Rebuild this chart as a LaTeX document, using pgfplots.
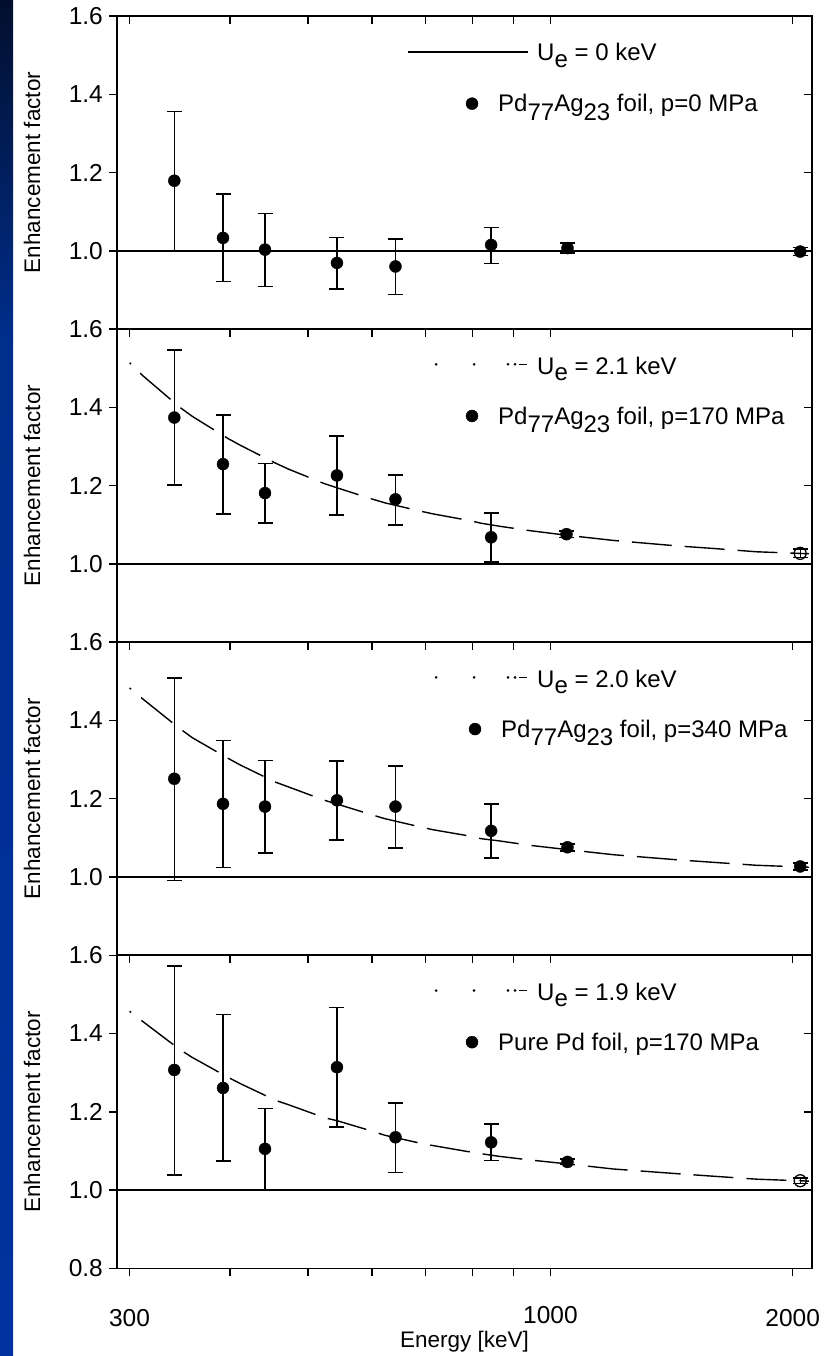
\documentclass[border=0pt]{standalone}
\usepackage{pgfplots}
\pgfplotsset{compat=1.18}
\usepackage{fontspec}
\setmainfont{Liberation Sans}
\newcommand\legfont{\fontsize{24}{28}\selectfont}
\newcommand\axfont{\fontsize{22.5}{27}\selectfont}
\newcommand\tkfont{\fontsize{24.5}{28}\selectfont}
\pgfplotstableread{
x y ep em
341 1.179 0.177 0.179
392 1.033 0.112 0.111
442 1.003 0.092 0.094
543 0.969 0.065 0.067
642 0.960 0.070 0.072
844 1.015 0.045 0.047
1050 1.007 0.013 0.013
2043 0.998 0.010 0.010
}\dataA
\pgfplotstableread{
x y ep em
341 1.374 0.172 0.173
392 1.255 0.126 0.127
442 1.181 0.075 0.076
543 1.226 0.101 0.101
642 1.165 0.062 0.066
844 1.068 0.062 0.063
1047 1.076 0.008 0.008
}\dataB
\pgfplotstableread{
x y ep em
2043 1.027 0.011 0.011
}\dataBopen
\pgfplotstableread{
x y ep em
341 1.251 0.258 0.260
392 1.187 0.162 0.163
442 1.180 0.118 0.119
543 1.196 0.100 0.102
642 1.180 0.104 0.106
844 1.118 0.069 0.070
1050 1.076 0.009 0.009
2043 1.027 0.009 0.009
}\dataC
\pgfplotstableread{
x y ep em
341 1.307 0.266 0.268
392 1.261 0.188 0.187
442 1.1055 0.1035 0.1055
543 1.314 0.153 0.153
642 1.135 0.087 0.090
844 1.122 0.047 0.0465
1050 1.072 0.007 0.007
}\dataD
\pgfplotstableread{
x y ep em
2043 1.024 0.007 0.007
}\dataDopen
\begin{document}
\begin{tikzpicture}
\useasboundingbox (0pt,0pt) rectangle (825pt,1356pt);
\fill[white] (0pt,0pt) rectangle (825pt,1356pt);
\shade[top color={rgb,255:red,2;green,15;blue,46}, bottom color={rgb,255:red,0;green,46;blue,140}] (0pt,1016pt) rectangle (13pt,1356pt);
\shade[top color={rgb,255:red,0;green,46;blue,140}, bottom color={rgb,255:red,0;green,51;blue,160}] (0pt,0pt) rectangle (13pt,1016.5pt);

% ---------------- Panel 1 ----------------
\begin{axis}[at={(117pt,1026.9pt)}, anchor=south west, scale only axis, width=695pt, height=313.1pt,
  xmode=log, xmin=289.46, xmax=2113.4, ymin=0.8, ymax=1.6,
  axis line style={line width=1.6pt}, major tick length=8pt, minor tick length=0pt,
  tick style={line width=1.4pt, black}, tick align=inside, xtick pos=right, ytick pos=right,
  xtick={300,400,500,600,700,800,900,1000,2000}, ytick={1.0,1.2,1.4,1.6},
  xticklabels={}, yticklabels={}]
\addplot[line width=1.7pt, black] coordinates {(289.46,1) (2113.4,1)};
\addplot[only marks, mark=*, mark size=6pt, black,
  error bars/y dir=both, error bars/y explicit,
  error bars/error bar style={line width=1.5pt},
  error bars/error mark options={rotate=90, line width=1.5pt, mark size=7.5pt}]
  table[x=x, y=y, y error plus=ep, y error minus=em] {\dataA};
\addplot[line width=1.4pt, black] coordinates {(665.4,1.508) (937.9,1.508)};
\addplot[only marks, mark=*, mark size=6pt, black] coordinates {(799.2,1.376)};
\node[anchor=base west, inner sep=0pt, font=\legfont] at (axis cs:962.4,1.485) {U\raisebox{-0.26em}{e} = 0 keV};
\node[anchor=base west, inner sep=0pt, font=\legfont] at (axis cs:860.8,1.355) {Pd\raisebox{-0.36em}{77}Ag\raisebox{-0.36em}{23} foil, p=0 MPa};
\end{axis}
\begin{axis}[at={(117pt,1026.9pt)}, anchor=south west, scale only axis, width=695pt, height=313.1pt,
  xmode=log, xmin=289.46, xmax=2113.4, ymin=0.8, ymax=1.6,
  axis line style={line width=1.6pt}, major tick length=8pt, minor tick length=0pt,
  tick style={line width=1.4pt, black}, tick align=outside, xtick pos=left, ytick pos=left,
  xtick=\empty, ytick={1.0,1.2,1.4,1.6}, yticklabels={1.0,1.2,1.4,1.6},
  yticklabel style={anchor=east, inner sep=0pt, xshift=-6pt, font=\tkfont},
  ylabel={Enhancement factor},
  ylabel style={at={(axis description cs:-0.1223,0.5)}, anchor=center, font=\axfont}]
\end{axis}

% ---------------- Panel 2 ----------------
\begin{axis}[at={(117pt,713.8pt)}, anchor=south west, scale only axis, width=695pt, height=313.1pt,
  xmode=log, xmin=289.46, xmax=2113.4, ymin=0.8, ymax=1.6,
  axis line style={line width=1.6pt}, major tick length=8pt, minor tick length=0pt,
  tick style={line width=1.4pt, black}, tick align=inside, xtick pos=right, ytick pos=right,
  xtick={300,400,500,600,700,800,900,1000,2000}, ytick={1.0,1.2,1.4,1.6},
  xticklabels={}, yticklabels={}]
\addplot[line width=1.7pt, black] coordinates {(289.46,1) (2113.4,1)};
\addplot[line width=1.4pt, black, dash pattern=on 40pt off 13pt, dash phase=38pt] coordinates {
 (300,1.514) (312,1.480) (346,1.401) (359,1.377) (398,1.320) (412,1.303)
 (456,1.257) (473,1.242) (524,1.205) (544,1.194) (602,1.165) (623,1.156)
 (689,1.135) (714,1.128) (792,1.111) (820,1.104) (866,1.096) (943,1.085)
 (1050,1.073) (1197,1.060) (1437,1.046) (1581,1.040) (1803,1.031) (2094,1.026)
};
\addplot[only marks, mark=*, mark size=6pt, black,
  error bars/y dir=both, error bars/y explicit,
  error bars/error bar style={line width=1.5pt},
  error bars/error mark options={rotate=90, line width=1.5pt, mark size=7.5pt}]
  table[x=x, y=y, y error plus=ep, y error minus=em] {\dataB};
\addplot[only marks, mark=o, mark size=6pt, black, mark options={line width=1.3pt},
  error bars/y dir=both, error bars/y explicit,
  error bars/error bar style={line width=1.3pt},
  error bars/error mark options={rotate=90, line width=1.3pt, mark size=7.5pt}]
  table[x=x, y=y, y error plus=ep, y error minus=em] {\dataBopen};
\addplot[only marks, mark=*, mark size=1.1pt, black] coordinates {(721.1,1.510) (803.8,1.510) (885.8,1.510) (903.7,1.510)};
\addplot[line width=1.3pt, black] coordinates {(914.1,1.510) (935.3,1.510)};
\addplot[only marks, mark=*, mark size=6pt, black] coordinates {(799.2,1.378)};
\node[anchor=base west, inner sep=0pt, font=\legfont] at (axis cs:962.4,1.485) {U\raisebox{-0.26em}{e} = 2.1 keV};
\node[anchor=base west, inner sep=0pt, font=\legfont] at (axis cs:860.8,1.357) {Pd\raisebox{-0.36em}{77}Ag\raisebox{-0.36em}{23} foil, p=170 MPa};
\end{axis}
\begin{axis}[at={(117pt,713.8pt)}, anchor=south west, scale only axis, width=695pt, height=313.1pt,
  xmode=log, xmin=289.46, xmax=2113.4, ymin=0.8, ymax=1.6,
  axis line style={line width=1.6pt}, major tick length=8pt, minor tick length=0pt,
  tick style={line width=1.4pt, black}, tick align=outside, xtick pos=left, ytick pos=left,
  xtick=\empty, ytick={1.0,1.2,1.4,1.6}, yticklabels={1.0,1.2,1.4,1.6},
  yticklabel style={anchor=east, inner sep=0pt, xshift=-6pt, font=\tkfont},
  ylabel={Enhancement factor},
  ylabel style={at={(axis description cs:-0.1223,0.5)}, anchor=center, font=\axfont}]
\end{axis}

% ---------------- Panel 3 ----------------
\begin{axis}[at={(117pt,400.7pt)}, anchor=south west, scale only axis, width=695pt, height=313.1pt,
  xmode=log, xmin=289.46, xmax=2113.4, ymin=0.8, ymax=1.6,
  axis line style={line width=1.6pt}, major tick length=8pt, minor tick length=0pt,
  tick style={line width=1.4pt, black}, tick align=inside, xtick pos=right, ytick pos=right,
  xtick={300,400,500,600,700,800,900,1000,2000}, ytick={1.0,1.2,1.4,1.6},
  xticklabels={}, yticklabels={}]
\addplot[line width=1.7pt, black] coordinates {(289.46,1) (2113.4,1)};
\addplot[line width=1.4pt, black, dash pattern=on 40pt off 13pt, dash phase=38pt] coordinates {
 (300,1.483) (312,1.454) (346,1.380) (359,1.356) (398,1.303) (412,1.286)
 (456,1.242) (473,1.230) (524,1.196) (544,1.186) (602,1.158) (623,1.149)
 (689,1.128) (714,1.121) (792,1.105) (820,1.098) (866,1.092) (943,1.081)
 (1050,1.070) (1197,1.057) (1437,1.044) (1581,1.038) (1803,1.030) (2094,1.025)
};
\addplot[only marks, mark=*, mark size=6pt, black,
  error bars/y dir=both, error bars/y explicit,
  error bars/error bar style={line width=1.5pt},
  error bars/error mark options={rotate=90, line width=1.5pt, mark size=7.5pt}]
  table[x=x, y=y, y error plus=ep, y error minus=em] {\dataC};
\addplot[only marks, mark=*, mark size=1.1pt, black] coordinates {(721.1,1.510) (803.8,1.510) (885.8,1.510) (903.7,1.510)};
\addplot[line width=1.3pt, black] coordinates {(914.1,1.510) (935.3,1.510)};
\addplot[only marks, mark=*, mark size=6pt, black] coordinates {(806,1.378)};
\node[anchor=base west, inner sep=0pt, font=\legfont] at (axis cs:962.4,1.485) {U\raisebox{-0.26em}{e} = 2.0 keV};
\node[anchor=base west, inner sep=0pt, font=\legfont] at (axis cs:868.2,1.357) {Pd\raisebox{-0.36em}{77}Ag\raisebox{-0.36em}{23} foil, p=340 MPa};
\end{axis}
\begin{axis}[at={(117pt,400.7pt)}, anchor=south west, scale only axis, width=695pt, height=313.1pt,
  xmode=log, xmin=289.46, xmax=2113.4, ymin=0.8, ymax=1.6,
  axis line style={line width=1.6pt}, major tick length=8pt, minor tick length=0pt,
  tick style={line width=1.4pt, black}, tick align=outside, xtick pos=left, ytick pos=left,
  xtick=\empty, ytick={1.0,1.2,1.4,1.6}, yticklabels={1.0,1.2,1.4,1.6},
  yticklabel style={anchor=east, inner sep=0pt, xshift=-6pt, font=\tkfont},
  ylabel={Enhancement factor},
  ylabel style={at={(axis description cs:-0.1223,0.5)}, anchor=center, font=\axfont}]
\end{axis}

% ---------------- Panel 4 ----------------
\begin{axis}[at={(117pt,87.6pt)}, anchor=south west, scale only axis, width=695pt, height=313.1pt,
  xmode=log, xmin=289.46, xmax=2113.4, ymin=0.8, ymax=1.6,
  axis line style={line width=1.6pt}, major tick length=8pt, minor tick length=0pt,
  tick style={line width=1.4pt, black}, tick align=inside, xtick pos=right, ytick pos=right,
  xtick={300,400,500,600,700,800,900,1000,2000}, ytick={1.0,1.2,1.4,1.6},
  xticklabels={}, yticklabels={}]
\addplot[line width=1.7pt, black] coordinates {(289.46,1) (2113.4,1)};
\addplot[line width=1.4pt, black, dash pattern=on 40pt off 13pt, dash phase=38pt] coordinates {
 (300,1.457) (312,1.430) (346,1.360) (359,1.339) (398,1.288) (412,1.272)
 (456,1.229) (473,1.218) (524,1.185) (544,1.177) (602,1.150) (623,1.140)
 (689,1.120) (714,1.114) (792,1.098) (820,1.093) (866,1.086) (943,1.077)
 (1050,1.067) (1197,1.054) (1437,1.042) (1581,1.036) (1803,1.028) (2094,1.023)
};
\addplot[only marks, mark=*, mark size=6pt, black,
  error bars/y dir=both, error bars/y explicit,
  error bars/error bar style={line width=1.5pt},
  error bars/error mark options={rotate=90, line width=1.5pt, mark size=7.5pt}]
  table[x=x, y=y, y error plus=ep, y error minus=em] {\dataD};
\addplot[only marks, mark=o, mark size=6pt, black, mark options={line width=1.3pt},
  error bars/y dir=both, error bars/y explicit,
  error bars/error bar style={line width=1.3pt},
  error bars/error mark options={rotate=90, line width=1.3pt, mark size=7.5pt}]
  table[x=x, y=y, y error plus=ep, y error minus=em] {\dataDopen};
\addplot[only marks, mark=*, mark size=1.1pt, black] coordinates {(721.1,1.510) (803.8,1.510) (885.8,1.510) (903.7,1.510)};
\addplot[line width=1.3pt, black] coordinates {(914.1,1.510) (935.3,1.510)};
\addplot[only marks, mark=*, mark size=6pt, black] coordinates {(799.2,1.378)};
\node[anchor=base west, inner sep=0pt, font=\legfont] at (axis cs:962.4,1.485) {U\raisebox{-0.26em}{e} = 1.9 keV};
\node[anchor=base west, inner sep=0pt, font=\legfont] at (axis cs:860.8,1.357) {Pure Pd foil, p=170 MPa};
\end{axis}
\begin{axis}[at={(117pt,87.6pt)}, anchor=south west, scale only axis, width=695pt, height=313.1pt,
  xmode=log, xmin=289.46, xmax=2113.4, ymin=0.8, ymax=1.6,
  axis line style={line width=1.6pt}, major tick length=8pt, minor tick length=0pt,
  tick style={line width=1.4pt, black}, tick align=outside, xtick pos=left, ytick pos=left,
  xtick={300,400,500,600,700,800,900,1000,2000},
  xticklabels={300,,,,,,,\raisebox{3pt}{1000},2000},
  xticklabel style={anchor=base, inner sep=0pt, yshift=-50pt, font=\tkfont},
  xlabel={Energy [keV]},
  xlabel style={at={(axis description cs:0.5,-0.235)}, anchor=center, font=\axfont},
  ytick={0.8,1.0,1.2,1.4,1.6}, yticklabels={0.8,1.0,1.2,1.4,1.6},
  yticklabel style={anchor=east, inner sep=0pt, xshift=-6pt, font=\tkfont},
  ylabel={Enhancement factor},
  ylabel style={at={(axis description cs:-0.1223,0.5)}, anchor=center, font=\axfont}]
\end{axis}
\end{tikzpicture}
\end{document}
